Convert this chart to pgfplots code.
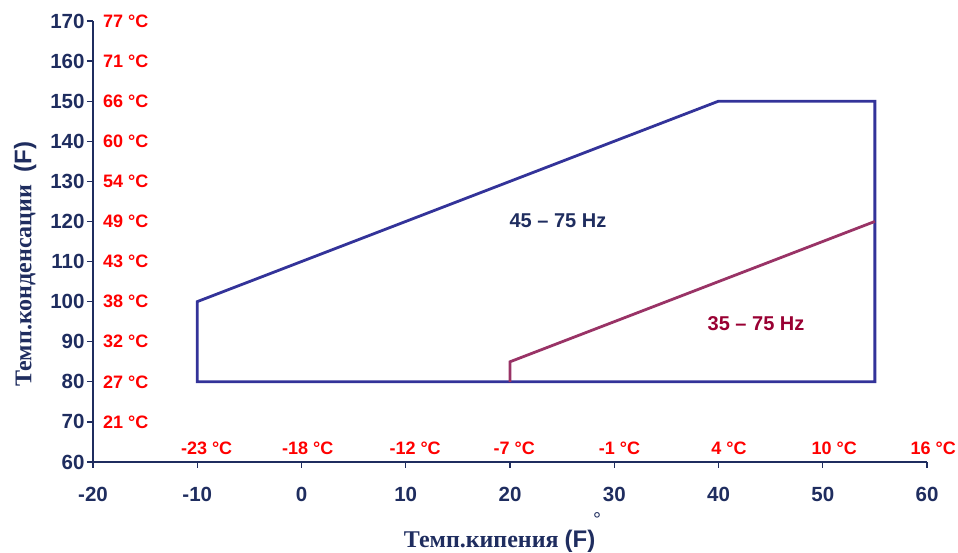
\documentclass[border=0pt]{standalone}
\usepackage{fontspec}
\setmainfont{Liberation Sans}
\newfontfamily\timesb{Liberation Serif}
\usepackage{pgfplots}
\pgfplotsset{compat=1.18}
\definecolor{navy}{HTML}{1F2D5F}
\definecolor{envblue}{HTML}{333399}
\definecolor{envpurple}{HTML}{993366}
\definecolor{hzred}{HTML}{990033}
\definecolor{cred}{HTML}{FF0000}

\begin{document}
\begin{tikzpicture}
\begin{axis}[
    at={(0,0)}, anchor=south west,
    scale only axis,
    width=834pt, height=441pt,
    xmin=-20, xmax=60, ymin=60, ymax=170,
    axis lines*=left,
    axis line style={navy, line width=1.3pt},
    xtick={-20,-10,...,60},
    ytick={60,70,...,170},
    xticklabels={-20,-10,0,10,20,30,40,50,60},
    yticklabels={60,70,80,90,100,110,120,130,140,150,160,170},
    tick style={navy, line width=1.3pt},
    tick align=outside,
    major tick length=6pt,
    tick label style={font=\bfseries\fontsize{20.5}{20.5}\selectfont, text=navy},
    xticklabel style={yshift=-16pt},
    yticklabel style={xshift=1pt},
    clip=false,
]
% envelope 45-75 Hz
\addplot[envblue, line width=2.8pt, line join=miter] coordinates {
    (-10,80) (-10,100) (40,150) (55,150) (55,80) (-10,80)
} -- cycle;
% 35-75 Hz limit
\addplot[envpurple, line width=2.8pt] coordinates {
    (20,80) (20,85) (55,120)
};

\node[text=navy, font=\bfseries\fontsize{20}{20}\selectfont] at (axis cs:24.6,120.3) {45 – 75 Hz};
\node[text=hzred, font=\bfseries\fontsize{20}{20}\selectfont] at (axis cs:43.6,94.6) {35 – 75 Hz};

% Celsius labels
\begin{scope}[every node/.style={text=cred, font=\bfseries\fontsize{18}{18}\selectfont, inner sep=0pt}]
\node[anchor=west] at (axis cs:-19.04,70) {21 °C};
\node[anchor=west] at (axis cs:-19.04,80) {27 °C};
\node[anchor=west] at (axis cs:-19.04,90) {32 °C};
\node[anchor=west] at (axis cs:-19.04,100) {38 °C};
\node[anchor=west] at (axis cs:-19.04,110) {43 °C};
\node[anchor=west] at (axis cs:-19.04,120) {49 °C};
\node[anchor=west] at (axis cs:-19.04,130) {54 °C};
\node[anchor=west] at (axis cs:-19.04,140) {60 °C};
\node[anchor=west] at (axis cs:-19.04,150) {66 °C};
\node[anchor=west] at (axis cs:-19.04,160) {71 °C};
\node[anchor=west] at (axis cs:-19.04,170) {77 °C};
\node at (axis cs:-9.1,63.3) {-23 °C};
\node at (axis cs:0.6,63.3) {-18 °C};
\node at (axis cs:10.9,63.3) {-12 °C};
\node at (axis cs:20.4,63.3) {-7 °C};
\node at (axis cs:30.5,63.3) {-1 °C};
\node at (axis cs:41.0,63.3) {4 °C};
\node at (axis cs:51.1,63.3) {10 °C};
\node at (axis cs:60.6,63.3) {16 °C};
\end{scope}

% axis titles
\node[text=navy, font=\timesb\bfseries\fontsize{24}{24}\selectfont] at (axis cs:19.0,40.2)
    {Темп.кипения {\normalfont\bfseries (F)}};
\node[text=navy, anchor=base, inner sep=0pt, font=\fontsize{20}{20}\selectfont] at (axis cs:28.35,43.8) {°};
\node[text=navy, rotate=90, font=\timesb\bfseries\fontsize{24}{24}\selectfont] at (axis cs:-26.5,109.3)
    {Темп.конденсации\ \ {\normalfont\bfseries (F)}};
\end{axis}
\pgfresetboundingbox
\path (-93pt,-91pt) rectangle (865pt,462pt);
\end{tikzpicture}
\end{document}
